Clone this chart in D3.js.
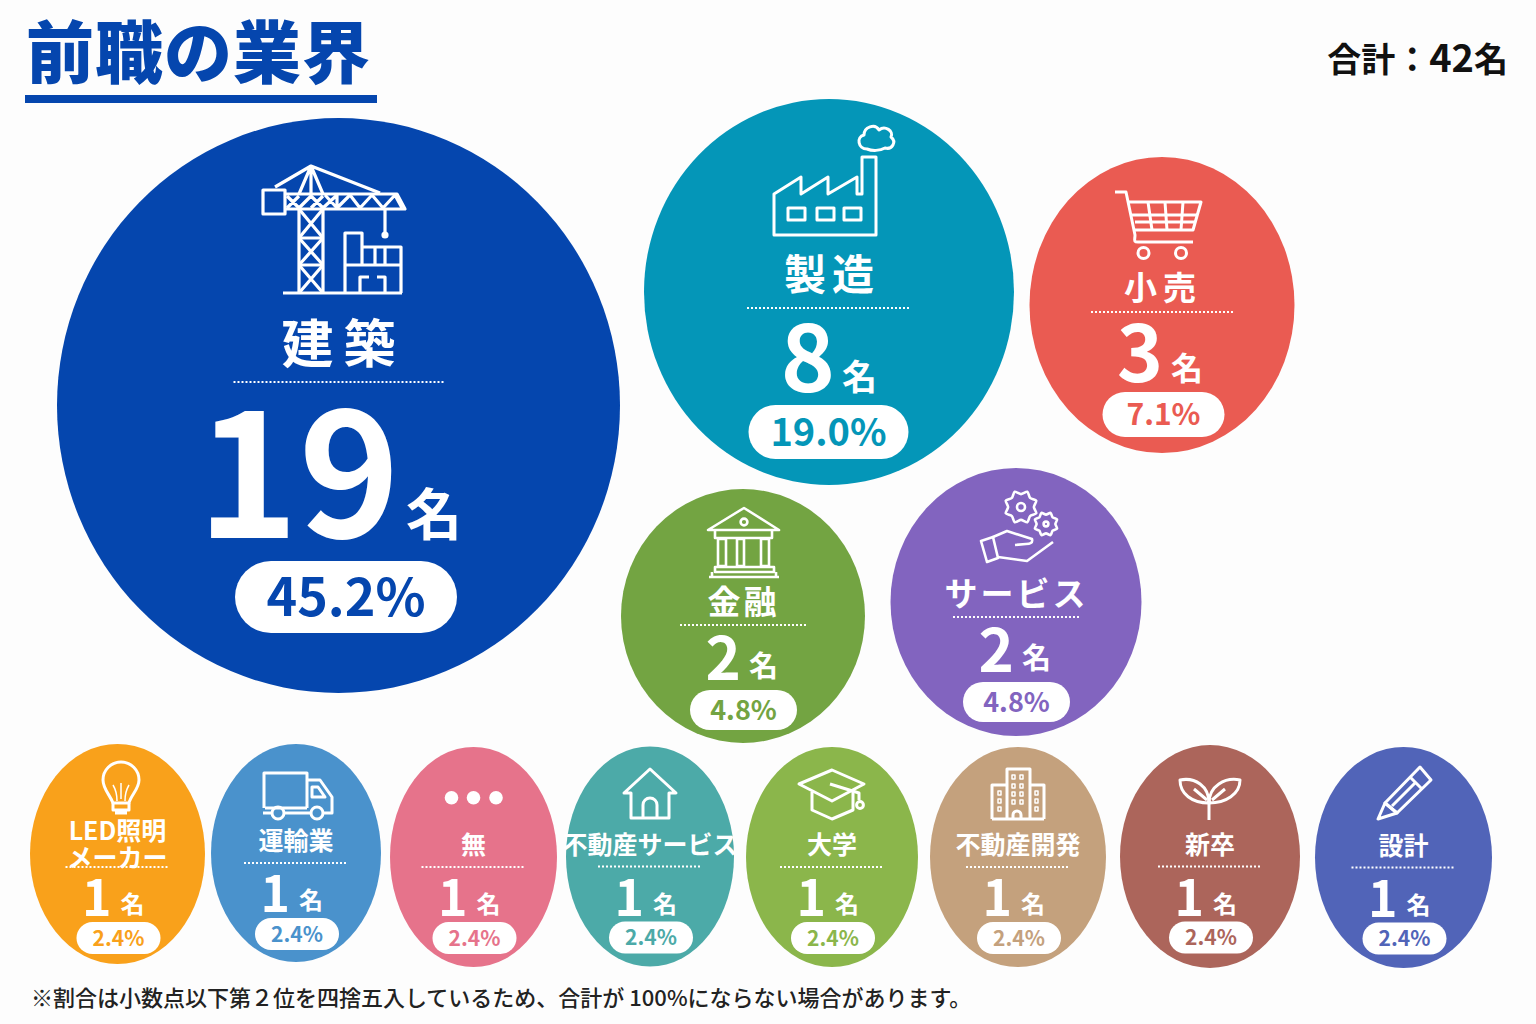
<!DOCTYPE html>
<html lang="ja">
<head>
<meta charset="utf-8">
<script src="https://cdn.jsdelivr.net/npm/d3@7"></script>
<style>
html, body { margin: 0; padding: 0; background: #fdfdfd; }
svg { display: block; }
text { font-family: "Noto Sans CJK JP", "Noto Sans", sans-serif; font-weight: 700; }
</style>
</head>
<body>
<script>
// values
const categories = ["建築", "製造", "小売", "金融", "サービス", "LED照明メーカー", "運輸業", "無", "不動産サービス", "大学", "不動産開発", "新卒", "設計"];
const counts = [19, 8, 3, 2, 2, 1, 1, 1, 1, 1, 1, 1, 1];
const percents = ["45.2%", "19.0%", "7.1%", "4.8%", "4.8%", "2.4%", "2.4%", "2.4%", "2.4%", "2.4%", "2.4%", "2.4%", "2.4%"];
const total = 42;
const colors = ["#0546ae", "#0496b8", "#ea5b52", "#73a442", "#8264bf", "#f9a11b", "#4a92cc", "#e6738b", "#4caaa8", "#8bb64b", "#c4a17d", "#ac655b", "#5164b8"];
const labelBreaks = { "LED照明メーカー": ["LED照明", "メーカー"] };

const width = 1536, height = 1024;

// layout scales, bubble positions are hand placed
const xs = d3.scaleOrdinal(categories, [338.5, 829, 1162, 743, 1016, 117.5, 296, 473.5, 650, 832, 1018, 1210, 1403.5]);
const ys = d3.scaleOrdinal(categories, [405.5, 292, 305, 616, 602, 854, 853, 857, 856.5, 857, 857, 856.5, 857.5]);
const rxs = d3.scaleOrdinal(categories, [281.5, 185, 132.5, 122, 125.5, 87.5, 85, 83.5, 84, 86, 88, 90, 88.5]);
const rys = d3.scaleOrdinal(categories, [287.5, 193, 148, 127, 134, 110, 109, 110, 110, 110, 110, 111.5, 110.5]);
const shift = d3.scaleOrdinal(categories, [0, 0, 0, 0, 6, 3, 0, 0, 0, 0, 0, 0, 0]);

// text sizes and offsets from the bubble centre, by count
const tiers = {
  19: { labelY: -43, labelSize: 52, spacing: 10, labelX: 0, divY: -23.5, divHalf: 105, numY: 132.5, numSize: 172, numEnd: 61.5, unitGap: 6, unitSize: 56, unitY: 129, pillX: 7.5, pillY: 155.5, pillHalf: 111, pillH: 72, pctSize: 52 },
  8: { labelY: -2, labelSize: 42, spacing: 6, labelX: 0, divY: 16, divHalf: 82, numY: 100, numSize: 92, numEnd: 6, unitGap: 7, unitSize: 35, unitY: 98, pillX: -0.5, pillY: 113, pillHalf: 80, pillH: 54, pctSize: 38 },
  3: { labelY: -5, labelSize: 33, spacing: 6, labelX: -2, divY: 7, divHalf: 71, numY: 77, numSize: 78, numEnd: 1, unitGap: 8, unitSize: 32, unitY: 75, pillX: 1.5, pillY: 87, pillHalf: 61, pillH: 45, pctSize: 30 },
  2: { labelY: -2, labelSize: 33, spacing: 3, labelX: -1, divY: 9, divHalf: 63, numY: 64, numSize: 60, numEnd: -2, unitGap: 8, unitSize: 29, unitY: 61, pillX: 0.5, pillY: 74, pillHalf: 53.5, pillH: 40, pctSize: 27 },
  1: { labelY: -3, labelSize: 25, spacing: 0, labelX: 0, divY: 10, divHalf: 52, numY: 59, numSize: 50, numEnd: -6, unitGap: 9, unitSize: 24, unitY: 56, pillX: 1, pillY: 65, pillHalf: 42, pillH: 32, pctSize: 21 }
};

// outline icons, local coords from the crop origin
const gear = (cx, cy, r, teeth) => {
  const pts = d3.range(teeth * 2).map(i => [i * Math.PI / teeth, i % 2 ? r : r * 0.78]);
  return { cx, cy, d: d3.lineRadial().curve(d3.curveCardinalClosed.tension(0.3))(pts) };
};
const icons = {
  "建築": { at: [240, 150], sw: 3.2, paths: [
    "M23 40h22v24h-22z", "M45 44H157L165 59H45", "M59 59V143M83 59V143M59 88H83M59 115H83",
    "M59 59L83 88M83 59L59 88M59 88L83 115M83 88L59 115M59 115L83 143M83 115L59 143",
    "M35 37L71 16L140 43M71 16L59 44M71 16L83 44M71 16V44",
    "M47 46L59 58L71 46L83 58L97 45L97 58M85 45L97 58L110 45L120 58L132 45L143 58L155 45L162 58M59 46L47 58M71 46L59 58M83 46L71 58",
    "M145 59V82", "M43 143H162",
    "M105 143V83H122V97H161V143M105 115H161M135 97V115M145 97V115M122 97V115",
    "M120 143V127H129M137 127H145V143" ],
    dots: [[145, 85, 3.6]] },
  "製造": { at: [760, 115], sw: 3, paths: [
    "M14 120V79L41 62V79L68 62V79L97 62V79H102V42H116V120Z", "M28 93h17v12h-17z", "M57 93h17v12h-17z", "M84 93h17v12h-17z",
    "M107 34C98 34 96 22 104 20C104 12 115 8 119 15C125 10 134 16 131 22C137 27 132 35 125 33C120 36 112 36 107 34Z" ] },
  "小売": { at: [1110, 180], sw: 3, paths: [
    "M5 12H16L25 55C25 60 23 62 28 62H83", "M18 22H91L83 50H25", "M22 35H87M25 42H85",
    "M38 22L42 50M55 22L57 50M73 22L71 50" ],
    circles: [[33.5, 73, 5.5], [71, 73, 5.5]] },
  "金融": { at: [690, 480], sw: 2.6, paths: [
    "M18 50L54 28L89 50Z", "M25 50V58H82V50", "M28 59H36V86H28ZM47 59H54V86H47ZM71 59H79V86H71Z",
    "M25 87H84V92H25ZM19 97H89", "M22 92V97M86 92V97" ],
    circles: [[54, 42, 3.4]] },
  "サービス": { at: [690, 480], sw: 2.6, paths: [
    "M291 61L303 57L308 78L297 82Z", "M303 57L317 51L342 59C343 63 340 64 336 64L325 65",
    "M308 77L337 81L363 62" ],
    circles: [[331, 27, 4], [356, 44, 2.4]], gears: [gear(331, 27, 16.5, 8), gear(356, 44, 12, 8)] },
  "LED照明メーカー": { at: [20, 745], sw: 3, paths: [
    "M93 58C90 50 83 44 83 35A18 18 0 0 1 119 35C119 44 111 50 109 58Z", "M93 58V65H109V58M95 68H107",
    "M93 40C96 45 97 50 97 56M109 40C106 45 105 50 105 56M101 38V54" ],
    thin: [2] },
  "運輸業": { at: [20, 745], sw: 3, paths: [
    "M244 63V28H287V63", "M245 63H287", "M243 68H251M265 68H290", "M287 35H300L312 52V68H304", "M292 42H298L305 52H292Z" ],
    circles: [[258, 68, 6], [297, 68, 6]] },
  "無": { at: [20, 745], sw: 0, paths: [], dots: [[431.5, 52.7, 6.8], [453.5, 52.7, 6.8], [476, 52.7, 6.8]] },
  "不動産サービス": { at: [560, 745], sw: 3, paths: [
    "M64 48L90 24L116 48H109V73H71V48Z", "M83 73V60A7 7 0 0 1 97 60V73" ] },
  "大学": { at: [560, 745], sw: 3, paths: [
    "M239 39L272 25L304 39L272 56Z", "M252 47V65L272 74L293 65V47", "M270 39L299 48V55" ],
    circles: [[300, 60, 3.4]] },
  "不動産開発": { at: [560, 745], sw: 3, paths: [
    "M447 74V24H470V74", "M432 74V40H447M470 40H484V74", "M432 74H484", "M453 74V70A4 4 0 0 1 461 70V74",
    "M452 30h3v4h-3zM460 30h3v4h-3zM452 39h3v4h-3zM460 39h3v4h-3zM452 47h3v4h-3zM460 47h3v4h-3zM452 55h3v4h-3zM460 55h3v4h-3z",
    "M438 46h3v4h-3zM438 54h3v4h-3zM438 62h3v4h-3zM475 46h3v4h-3zM475 54h3v4h-3zM475 62h3v4h-3z" ],
    thin: [4, 5] },
  "新卒": { at: [1120, 760], sw: 3, paths: [
    "M89 35V60", "M89 43C72 43 60 34 60 20C75 17 89 26 89 43Z", "M89 43C106 43 120 34 120 20C105 17 89 26 89 43Z",
    "M74 29L87 40M105 29L92 40" ] },
  "設計": { at: [1120, 760], sw: 3, paths: [
    "M265 43L300 7L311 20L277 53Z", "M265 43L258 59L277 53Z", "M290 17L302 29", "M272 46L296 22" ] }
};

const svg = d3.select("body").append("svg")
  .attr("width", width)
  .attr("height", height)
  .attr("viewBox", [0, 0, width, height]);

svg.append("rect").attr("width", width).attr("height", height).attr("fill", "#fdfdfd");

// title
svg.append("text")
  .attr("x", 26).attr("y", 78)
  .attr("font-size", 68)
  .style("font-weight", 900)
  .attr("letter-spacing", 1)
  .attr("fill", "#0546ae")
  .text("前職の業界");
svg.append("rect").attr("x", 25).attr("y", 95).attr("width", 352).attr("height", 8).attr("fill", "#0546ae");

// total
const totalText = svg.append("text")
  .attr("x", 1508).attr("y", 72)
  .attr("text-anchor", "end")
  .attr("fill", "#111");
totalText.append("tspan").attr("font-size", 34).text("合計：");
totalText.append("tspan").attr("font-size", 38).text(total);
totalText.append("tspan").attr("font-size", 34).text("名");

const rows = categories.map((name, i) => ({ name, count: counts[i], pct: percents[i], color: colors[i] }));

const bubble = svg.append("g").selectAll("g")
  .data(rows)
  .join("g")
  .attr("class", "bubble");

bubble.append("ellipse")
  .attr("cx", d => xs(d.name))
  .attr("cy", d => ys(d.name))
  .attr("rx", d => rxs(d.name))
  .attr("ry", d => rys(d.name))
  .attr("fill", d => d.color);

// icons
bubble.each(function(d) {
  const ic = icons[d.name];
  const g = d3.select(this).append("g")
    .attr("transform", `translate(${ic.at})`)
    .attr("fill", "none")
    .attr("stroke", "#fff")
    .attr("stroke-width", ic.sw)
    .attr("stroke-linejoin", "round");
  ic.paths.forEach((p, i) => {
    g.append("path").attr("d", p)
      .attr("stroke-width", (ic.thin || []).includes(i) ? ic.sw * 0.5 : ic.sw);
  });
  (ic.circles || []).forEach(c => {
    g.append("circle").attr("cx", c[0]).attr("cy", c[1]).attr("r", c[2]);
  });
  (ic.dots || []).forEach(c => {
    g.append("circle").attr("cx", c[0]).attr("cy", c[1]).attr("r", c[2]).attr("fill", "#fff").attr("stroke", "none");
  });
  (ic.gears || []).forEach(c => {
    g.append("path").attr("transform", `translate(${c.cx},${c.cy})`).attr("d", c.d);
  });
});

// labels
bubble.each(function(d) {
  const t = tiers[d.count];
  const cx = xs(d.name), cy = ys(d.name) + shift(d.name);
  const g = d3.select(this);
  const lines = labelBreaks[d.name] || [d.name];
  lines.forEach((line, i) => {
    g.append("text")
      .attr("x", cx + t.labelX + t.spacing / 2)
      .attr("y", cy + t.labelY + (i - lines.length + 1) * 27 + (lines.length > 1 ? 13 : 0))
      .attr("text-anchor", "middle")
      .attr("font-size", t.labelSize)
      .attr("letter-spacing", t.spacing)
      .attr("fill", "#fff")
      .text(line);
  });
  g.append("line")
    .attr("x1", cx - t.divHalf).attr("x2", cx + t.divHalf)
    .attr("y1", cy + t.divY).attr("y2", cy + t.divY)
    .attr("stroke", "#fff")
    .attr("stroke-width", 2)
    .attr("stroke-dasharray", "2 2");
  g.append("text")
    .attr("x", cx + t.numEnd).attr("y", cy + t.numY)
    .attr("text-anchor", "end")
    .attr("font-size", t.numSize)
    .attr("fill", "#fff")
    .text(d.count);
  g.append("text")
    .attr("x", cx + t.numEnd + t.unitGap).attr("y", cy + t.unitY)
    .attr("font-size", t.unitSize)
    .attr("fill", "#fff")
    .text("名");
  g.append("rect")
    .attr("x", cx + t.pillX - t.pillHalf).attr("y", cy + t.pillY)
    .attr("width", t.pillHalf * 2).attr("height", t.pillH)
    .attr("rx", t.pillH / 2)
    .attr("fill", "#fff");
  g.append("text")
    .attr("x", cx + t.pillX).attr("y", cy + t.pillY + t.pillH / 2 + t.pctSize * 0.36)
    .attr("text-anchor", "middle")
    .attr("font-size", t.pctSize)
    .attr("fill", d.color)
    .text(d.pct);
});

// footnote
svg.append("text")
  .attr("x", 31).attr("y", 1006)
  .attr("font-size", 22)
  .style("font-weight", 500)
  .attr("fill", "#222")
  .text("※割合は小数点以下第２位を四捨五入しているため、合計が 100%にならない場合があります。");
</script>
</body>
</html>
